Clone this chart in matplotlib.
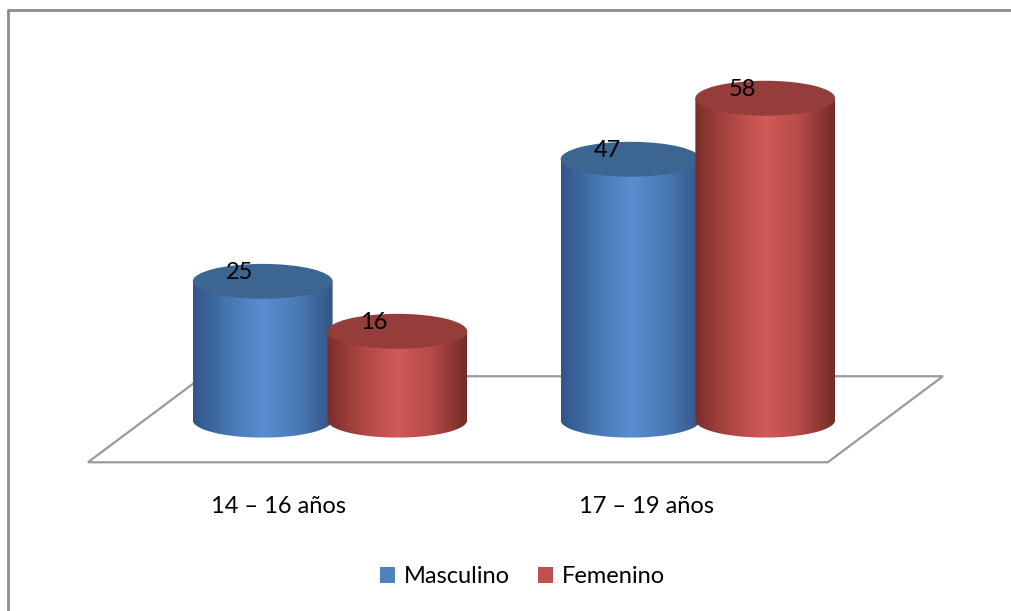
import matplotlib.pyplot as plt
import numpy as np
from matplotlib.patches import Ellipse, Polygon, PathPatch, Patch
from matplotlib.path import Path
from matplotlib.colors import LinearSegmentedColormap
from matplotlib.lines import Line2D

categories = ['14 – 16 años', '17 – 19 años']
series = ['Masculino', 'Femenino']
masculino = [25, 47]
femenino = [16, 58]

plt.rcParams['font.family'] = ['Lato', 'DejaVu Sans']

# ------------- style ------------- #
legend_colors = ['#4f81bd', '#c0504d']
top_colors = ['#3d6592', '#953d3a']
body_cmaps = [
    LinearSegmentedColormap.from_list('blue', ['#30548a', '#4676b2', '#5a8dd0', '#4a7ab6', '#325683']),
    LinearSegmentedColormap.from_list('red', ['#7a2e2b', '#ae4643', '#d25a57', '#b64a47', '#742b28']),
]
bar_w = 0.38
offset = 0.183
ell_h = 6.3
label_fs = 17

fig = plt.figure(figsize=(10.11, 6.11), dpi=100)
ax = fig.add_axes([0, 0, 1, 1])

# floor of the 3d plot area
floor = Polygon([(-0.658, -7.6), (1.353, -7.6), (1.666, 7.9), (-0.345, 7.9)],
                closed=True, facecolor='white', edgecolor='#9a9a9a', lw=1.6, zorder=1)
ax.add_patch(floor)


def cylinder(cx, value, k, z):
    x0, x1 = cx - bar_w / 2, cx + bar_w / 2
    t = np.linspace(np.pi, 2 * np.pi, 60)
    verts = [(x0, value), (x0, 0)]
    verts += list(zip(cx + bar_w / 2 * np.cos(t), ell_h / 2 * np.sin(t)))
    verts += [(x1, value), (x0, value)]
    codes = [Path.MOVETO] + [Path.LINETO] * (len(verts) - 2) + [Path.CLOSEPOLY]
    body = PathPatch(Path(verts, codes), facecolor='none', edgecolor='none',
                     transform=ax.transData, zorder=z)
    ax.add_patch(body)
    grad = np.linspace(0, 1, 256)[None, :]
    im = ax.imshow(grad, cmap=body_cmaps[k], extent=[x0, x1, -ell_h / 2, value],
                   aspect='auto', zorder=z, interpolation='bilinear')
    im.set_clip_path(body)
    ax.add_patch(Ellipse((cx, value), bar_w, ell_h, facecolor=top_colors[k],
                         edgecolor='none', zorder=z + 0.5))
    ax.text(cx - 0.063, value + 1.6, str(value), ha='center', va='center',
            fontsize=label_fs, color='black', zorder=z + 1)


z = 2
for i, cat in enumerate(categories):
    cylinder(i - offset, masculino[i], 0, z)
    cylinder(i + offset, femenino[i], 1, z + 2)
    z += 4
    ax.text(i - 0.14, -15.5, cat, ha='center', va='center', fontsize=label_fs)

ax.set_xlim(-0.897, 1.851)
ax.set_ylim(-34.4, 75.7)
ax.axis('off')

handles = [Patch(facecolor=c, edgecolor='none') for c in legend_colors]
fig.legend(handles, series, loc='center', bbox_to_anchor=(0.517, 0.056), ncol=2,
           frameon=False, fontsize=label_fs, handlelength=0.62, handleheight=0.62,
           handletextpad=0.4, columnspacing=1.2)

# outer chart border (only top and left visible)
fig.add_artist(Line2D([8 / 1011, 8 / 1011, 1], [0, 1 - 10 / 611, 1 - 10 / 611],
                      transform=fig.transFigure, color='#8c8c8c', lw=2))

fig.savefig('out.png', dpi=100)
